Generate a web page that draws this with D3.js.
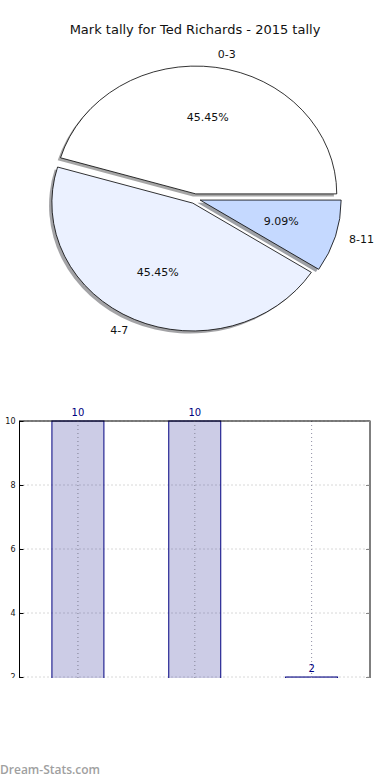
<!DOCTYPE html>
<html><head><meta charset="utf-8">
<script src="https://cdn.jsdelivr.net/npm/d3@7"></script>
<style>body{margin:0;background:#fff}svg{display:block}</style>
</head><body>
<svg id="c" width="390" height="780"></svg>
<script>
const title = "Mark tally for Ted Richards - 2015 tally";
const pieLabels = ["0-3", "4-7", "8-11"];
const pieValues = [10, 10, 2];
const pieColors = ["#ffffff", "#ebf1ff", "#c5d9ff"];
const barCategories = ["0-3", "4-7", "8-11"];
const barValues = [10, 10, 2];
const yTicks = [2, 4, 6, 8, 10];
const yLabel = "Total Mark Tally";
const watermark = "Dream-Stats.com";

const svg = d3.select("#c");
const font = "DejaVu Sans, sans-serif";

svg.append("text").attr("x", 195).attr("y", 30).attr("text-anchor", "middle")
  .attr("dominant-baseline", "middle").attr("font-family", font).attr("font-size", 13)
  .attr("fill", "#111").text(title);

// ---- Pie ----
const cx = 195, cy = 198.7, rx = 141, ry = 128, explode = 0.038;
const total = d3.sum(pieValues);
const pie = d3.pie().sort(null).value(d => d)(pieValues);
const arc = d3.arc().innerRadius(0).outerRadius(1);
const pg = svg.append("g");
const wedges = pie.map((p, i) => {
  const a0 = p.startAngle, a1 = p.endAngle, mid = (a0 + a1) / 2;
  const ox = cx + Math.cos(mid) * explode * rx;
  const oy = cy - Math.sin(mid) * explode * ry;
  return {i, mid, ox, oy, d: arc({startAngle: Math.PI / 2 - a1, endAngle: Math.PI / 2 - a0})};
});
// shadows
wedges.forEach(w => {
  const c = d3.rgb(pieColors[w.i]);
  pg.append("path").attr("d", w.d)
    .attr("transform", `translate(${w.ox - 0.02 * rx},${w.oy + 0.02 * ry}) scale(${rx},${ry})`)
    .attr("fill", d3.rgb(c.r * 0.3, c.g * 0.3, c.b * 0.3)).attr("fill-opacity", 0.5);
});
wedges.forEach(w => {
  pg.append("path").attr("d", w.d)
    .attr("transform", `translate(${w.ox},${w.oy}) scale(${rx},${ry})`)
    .attr("fill", pieColors[w.i]).attr("stroke", "#000").attr("stroke-width", 0.8)
    .attr("vector-effect", "non-scaling-stroke").attr("stroke-linejoin", "miter");
});
wedges.forEach(w => {
  const c = Math.cos(w.mid), s = Math.sin(w.mid);
  pg.append("text").attr("x", w.ox + 1.1 * c * rx).attr("y", w.oy - 1.1 * s * ry)
    .attr("text-anchor", c > 0 ? "start" : "end").attr("dominant-baseline", "middle")
    .attr("font-family", font).attr("font-size", 11).attr("fill", "#111").text(pieLabels[w.i]);
  pg.append("text").attr("x", w.ox + 0.6 * c * rx).attr("y", w.oy - 0.6 * s * ry)
    .attr("text-anchor", "middle").attr("dominant-baseline", "middle")
    .attr("font-family", font).attr("font-size", 11).attr("fill", "#111")
    .text((pieValues[w.i] / total * 100).toFixed(2) + "%");
});

// ---- Bar chart ----
const L = 19.5, R = 370, T = 421, B = 741, clipY = 678;
const defs = svg.append("defs");
defs.append("clipPath").attr("id", "cl").append("rect").attr("x", 0).attr("y", 0).attr("width", 390).attr("height", clipY);
const bg = svg.append("g").attr("clip-path", "url(#cl)");
const x = d3.scaleLinear().domain([-0.5, 2.5]).range([L, R]);
const y = d3.scaleLinear().domain([0, 10]).range([B, T]);
const bw = 0.445;

// grid
bg.append("g").selectAll("line").data(yTicks).join("line")
  .attr("x1", L).attr("x2", R).attr("y1", d => y(d)).attr("y2", d => y(d))
  .attr("stroke", "#b0b0b0").attr("stroke-width", 1).attr("stroke-dasharray", "1,3");
bg.append("g").selectAll("line").data(barCategories).join("line")
  .attr("x1", (d, i) => x(i)).attr("x2", (d, i) => x(i)).attr("y1", T).attr("y2", B)
  .attr("stroke", "#b0b0b0").attr("stroke-width", 1).attr("stroke-dasharray", "1,3");

// bars
bg.append("g").selectAll("rect").data(barValues).join("rect")
  .attr("x", (d, i) => x(i - bw / 2)).attr("width", x(bw) - x(0))
  .attr("y", d => y(d)).attr("height", d => y(0) - y(d))
  .attr("fill", "rgba(0,0,128,0.2)").attr("stroke", "#000080").attr("stroke-width", 1);
// redraw grid over bars faintly (matplotlib draws grid above in this style)
bg.append("g").selectAll("line").data(barCategories).join("line")
  .attr("x1", (d, i) => x(i)).attr("x2", (d, i) => x(i)).attr("y1", T).attr("y2", B)
  .attr("stroke", "#9a9aae").attr("stroke-width", 1).attr("stroke-dasharray", "1,3");

// value labels
bg.append("g").selectAll("text").data(barValues).join("text")
  .attr("x", (d, i) => x(i)).attr("y", d => y(d) - 5)
  .attr("text-anchor", "middle").attr("font-family", font).attr("font-size", 10)
  .attr("fill", "#000080").text(d => d);

// frame
bg.append("rect").attr("x", L).attr("y", T).attr("width", R - L).attr("height", B - T)
  .attr("fill", "none").attr("stroke", "#000").attr("stroke-width", 1);

// y axis ticks
const yAxis = d3.axisLeft(y).tickValues(yTicks).tickSize(-4).tickPadding(8);
const ya = bg.append("g").attr("transform", `translate(${L},0)`).call(yAxis);
ya.select(".domain").remove();
ya.selectAll("line").attr("stroke", "#000");
ya.selectAll("text").attr("font-family", font).attr("font-size", 8).attr("fill", "#111").attr("x", -4);
const ya2 = bg.append("g").attr("transform", `translate(${R},0)`).call(d3.axisRight(y).tickValues(yTicks).tickSize(-4).tickFormat(""));
ya2.select(".domain").remove();
ya2.selectAll("line").attr("stroke", "#888");

// y label (mostly cut off)
bg.append("text").attr("transform", `translate(-2,${(T + B) / 2}) rotate(-90)`)
  .attr("text-anchor", "middle").attr("font-family", font).attr("font-size", 9)
  .attr("fill", "#111").text(yLabel);

// watermark
svg.append("text").attr("x", 0).attr("y", 774).attr("font-family", "Open Sans, sans-serif")
  .attr("font-weight", 600).attr("font-size", 12).attr("fill", "#a0a0a0").text(watermark);
</script>
</body></html>
